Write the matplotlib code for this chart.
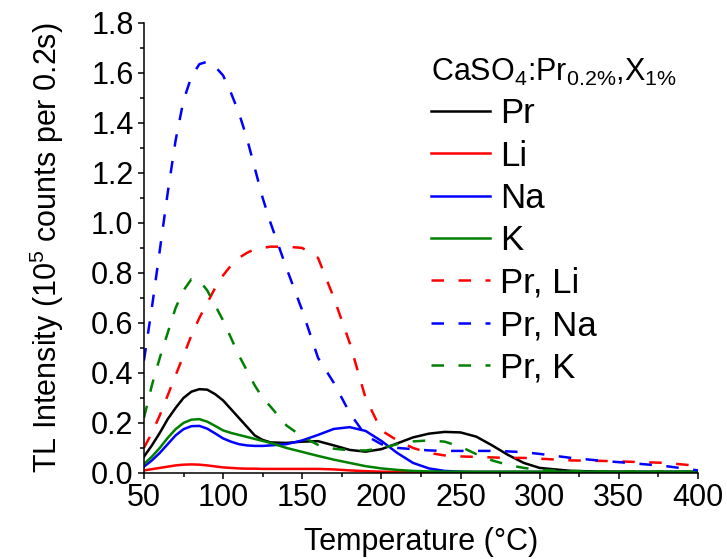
import matplotlib
matplotlib.use("Agg")
import matplotlib.pyplot as plt
from matplotlib.ticker import MultipleLocator, FormatStrFormatter

plt.rcParams['font.family'] = ['Liberation Sans', 'DejaVu Sans']
plt.rcParams['mathtext.default'] = 'regular'

# temperature grid (deg C) shared by all glow curves
temp = [50, 55, 60, 65, 70, 75, 80, 85, 90, 95, 100, 105, 110, 115, 120, 125, 130,
        140, 150, 160, 170, 180, 190, 200, 210, 220, 230, 240, 250, 260, 270, 280,
        290, 300, 320, 340, 360, 380, 400]

# TL intensity, 10^5 counts per 0.2 s
pr = [0.065, 0.11, 0.16, 0.215, 0.26, 0.30, 0.325, 0.335, 0.333, 0.315, 0.29, 0.255, 0.22,
      0.185, 0.15, 0.132, 0.122, 0.12, 0.125, 0.127, 0.11, 0.092, 0.085, 0.095, 0.118,
      0.142, 0.157, 0.164, 0.162, 0.145, 0.11, 0.072, 0.04, 0.02, 0.008, 0.005, 0.004,
      0.004, 0.004]
li = [0.01, 0.015, 0.02, 0.025, 0.03, 0.033, 0.034, 0.033, 0.03, 0.026, 0.022, 0.02, 0.018,
      0.017, 0.017, 0.016, 0.016, 0.016, 0.016, 0.016, 0.014, 0.01, 0.007, 0.005, 0.004,
      0.003, 0.003, 0.003, 0.003, 0.003, 0.003, 0.003, 0.003, 0.003, 0.003, 0.003, 0.003,
      0.003, 0.003]
na = [0.025, 0.05, 0.08, 0.115, 0.15, 0.175, 0.187, 0.188, 0.177, 0.158, 0.138, 0.125,
      0.115, 0.11, 0.108, 0.108, 0.11, 0.115, 0.13, 0.152, 0.176, 0.183, 0.168, 0.128,
      0.08, 0.04, 0.018, 0.008, 0.005, 0.004, 0.004, 0.004, 0.004, 0.004, 0.004, 0.004,
      0.004, 0.004, 0.004]
k = [0.035, 0.065, 0.10, 0.14, 0.175, 0.20, 0.213, 0.215, 0.205, 0.188, 0.17, 0.16, 0.152,
     0.144, 0.136, 0.128, 0.12, 0.10, 0.084, 0.068, 0.053, 0.04, 0.027, 0.018, 0.012,
     0.008, 0.006, 0.005, 0.005, 0.005, 0.005, 0.005, 0.005, 0.005, 0.005, 0.005, 0.005,
     0.005, 0.005]
pr_li = [0.10, 0.16, 0.23, 0.31, 0.39, 0.47, 0.55, 0.62, 0.68, 0.74, 0.79, 0.83, 0.86,
         0.88, 0.895, 0.90, 0.905, 0.905, 0.90, 0.86, 0.70, 0.52, 0.30, 0.17, 0.13, 0.10,
         0.08, 0.07, 0.066, 0.064, 0.062, 0.06, 0.06, 0.057, 0.05, 0.048, 0.044, 0.04,
         0.028]
pr_na = [0.45, 0.66, 0.89, 1.12, 1.33, 1.49, 1.585, 1.635, 1.645, 1.625, 1.59, 1.52, 1.44,
         1.34, 1.22, 1.10, 1.00, 0.82, 0.65, 0.46, 0.36, 0.24, 0.15, 0.115, 0.10, 0.095,
         0.09, 0.088, 0.088, 0.088, 0.088, 0.086, 0.083, 0.076, 0.06, 0.048, 0.038, 0.027,
         0.01]
pr_k = [0.22, 0.35, 0.46, 0.56, 0.66, 0.73, 0.775, 0.77, 0.73, 0.67, 0.61, 0.54, 0.47,
        0.41, 0.35, 0.30, 0.265, 0.19, 0.145, 0.112, 0.097, 0.09, 0.09, 0.098, 0.115,
        0.126, 0.13, 0.125, 0.105, 0.075, 0.05, 0.032, 0.02, 0.012, 0.008, 0.006, 0.005,
        0.005, 0.005]

labels = ['Pr', 'Li', 'Na', 'K', 'Pr, Li', 'Pr, Na', 'Pr, K']
colors = ['black', 'red', 'blue', '#008000', 'red', 'blue', '#008000']
series = [pr, li, na, k, pr_li, pr_na, pr_k]

fig = plt.figure(figsize=(7.27, 5.59), dpi=100)
ax = fig.add_axes([0.198, 0.154, 0.762, 0.805])

for i, (y, c, lab) in enumerate(zip(series, colors, labels)):
    ls = '-' if i < 4 else (0, (5, 5.8))
    ax.plot(temp, y, color=c, lw=1.8, ls=ls, label=lab)

ax.set_xlim(50, 400)
ax.set_ylim(0, 1.8)
ax.xaxis.set_major_locator(MultipleLocator(50))
ax.xaxis.set_minor_locator(MultipleLocator(25))
ax.yaxis.set_major_locator(MultipleLocator(0.2))
ax.yaxis.set_minor_locator(MultipleLocator(0.1))
ax.yaxis.set_major_formatter(FormatStrFormatter('%.1f'))

for s in ['top', 'right']:
    ax.spines[s].set_visible(False)
for s in ['left', 'bottom']:
    ax.spines[s].set_linewidth(1.1)
ax.tick_params(which='major', direction='out', length=4.5, width=1.1, labelsize=22, pad=3)
ax.tick_params(which='minor', direction='out', length=3, width=1.1)

ax.set_xlabel('Temperature (°C)', fontsize=22, labelpad=10)
ax.set_ylabel('TL Intensity (10$^5$ counts per 0.2s)', fontsize=22, labelpad=18)

leg = ax.legend(loc='upper left', bbox_to_anchor=(0.518, 0.925), frameon=False,
                fontsize=25, title='CaSO$_4$:Pr$_{0.2\\%}$,X$_{1\\%}$',
                title_fontsize=22, alignment='left', handlelength=1.7,
                handletextpad=0.3, labelspacing=0.27, borderpad=0, borderaxespad=0)

fig.savefig('out.png', dpi=100)
